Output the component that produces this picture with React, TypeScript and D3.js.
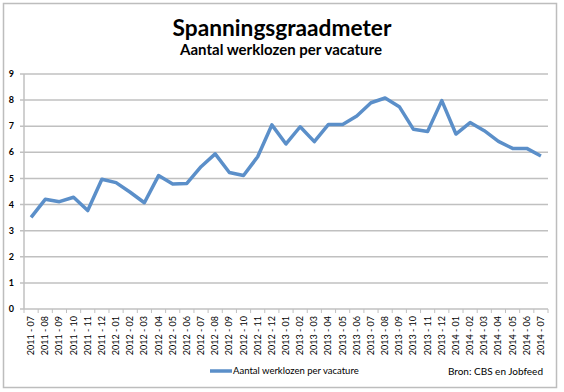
import * as d3 from 'd3';
import React from 'react';

// maanden 2011-07 t/m 2014-07
const months = [
  '2011 - 07', '2011 - 08', '2011 - 09', '2011 - 10', '2011 - 11', '2011 - 12',
  '2012 - 01', '2012 - 02', '2012 - 03', '2012 - 04', '2012 - 05', '2012 - 06',
  '2012 - 07', '2012 - 08', '2012 - 09', '2012 - 10', '2012 - 11', '2012 - 12',
  '2013 - 01', '2013 - 02', '2013 - 03', '2013 - 04', '2013 - 05', '2013 - 06',
  '2013 - 07', '2013 - 08', '2013 - 09', '2013 - 10', '2013 - 11', '2013 - 12',
  '2014 - 01', '2014 - 02', '2014 - 03', '2014 - 04', '2014 - 05', '2014 - 06',
  '2014 - 07',
];

const werklozenPerVacature = [
  3.51, 4.2, 4.11, 4.28, 3.77, 4.97,
  4.84, 4.47, 4.07, 5.11, 4.79, 4.81,
  5.45, 5.94, 5.23, 5.11, 5.83, 7.05,
  6.32, 6.98, 6.41, 7.07, 7.07, 7.39,
  7.9, 8.08, 7.75, 6.88, 6.8, 7.98,
  6.7, 7.14, 6.83, 6.42, 6.15, 6.15,
  5.86,
];

const yTicks = [0, 1, 2, 3, 4, 5, 6, 7, 8, 9];

const title = 'Spanningsgraadmeter';
const subtitle = 'Aantal werklozen per vacature';
const seriesName = 'Aantal werklozen per vacature';
const source = 'Bron: CBS en Jobfeed';

const width = 564;
const height = 392;
const marginLeft = 24;
const marginRight = 16;
const marginTop = 74;
const plotBottom = 309;

const font = 'Lato, "Open Sans", sans-serif';

const App = () => {
  const x = d3
    .scaleBand()
    .domain(months)
    .range([marginLeft, width - marginRight])
    .paddingInner(0)
    .paddingOuter(0);
  const y = d3.scaleLinear([0, 9], [plotBottom, marginTop]);

  const line = d3
    .line<number>()
    .x((d, i) => (x(months[i]) as number) + x.bandwidth() / 2)
    .y((d) => y(d));

  const gridColor = '#c0c0c0';

  return (
    <svg
      width={width}
      height={height}
      style={{ position: 'absolute', left: 0, top: 0 }}
    >
      <rect x={0} y={0} width={width} height={height} fill="white" />
      <rect x={3.5} y={3.5} width={553} height={384} fill="white" stroke="#bdbdbd" strokeWidth={1.5} />

      <text x={282} y={36} textAnchor="middle" fontFamily={font} fontWeight="bold" fontSize={22.7}>
        {title}
      </text>
      <text x={281} y={55} textAnchor="middle" fontFamily={font} fontWeight="bold" fontSize={15}>
        {subtitle}
      </text>

      {/* gridlijnen */}
      <g>
        {yTicks.map((t) => (
          <line
            key={t}
            x1={marginLeft - 4}
            x2={width - marginRight}
            y1={y(t)}
            y2={y(t)}
            stroke={gridColor}
            strokeWidth={1.5}
          />
        ))}
        {yTicks.map((t) => (
          <text
            key={'l' + t}
            x={14}
            y={y(t)}
            dy="0.35em"
            textAnchor="end"
            fontFamily={font}
            fontSize={9}
            fontWeight="bold"
          >
            {t}
          </text>
        ))}
      </g>

      {/* assen */}
      <line x1={marginLeft} x2={marginLeft} y1={marginTop} y2={plotBottom} stroke={gridColor} strokeWidth={1.5} />
      <g>
        {months.concat(['end']).map((m, i) => {
          const xx = marginLeft + i * x.bandwidth();
          return (
            <line key={'t' + i} x1={xx} x2={xx} y1={plotBottom} y2={plotBottom + 4} stroke={gridColor} strokeWidth={1} />
          );
        })}
        {months.map((m) => {
          const cx = (x(m) as number) + x.bandwidth() / 2;
          return (
            <text
              key={m}
              transform={`translate(${cx + 3},${plotBottom + 7}) rotate(-90)`}
              textAnchor="end"
              fontFamily={font}
              fontSize={9}
            >
              {m}
            </text>
          );
        })}
      </g>

      <path
        d={line(werklozenPerVacature) as string}
        fill="none"
        stroke="#5b8fc9"
        strokeWidth={3.5}
        strokeLinejoin="round"
      />

      {/* legenda */}
      <line x1={210} x2={232} y1={371} y2={371} stroke="#5b8fc9" strokeWidth={3.5} />
      <text x={233} y={374} fontFamily={font} fontSize={9.5}>
        {seriesName}
      </text>
      <text x={543} y={375} textAnchor="end" fontFamily={font} fontSize={10}>
        {source}
      </text>
    </svg>
  );
};

export default App;
